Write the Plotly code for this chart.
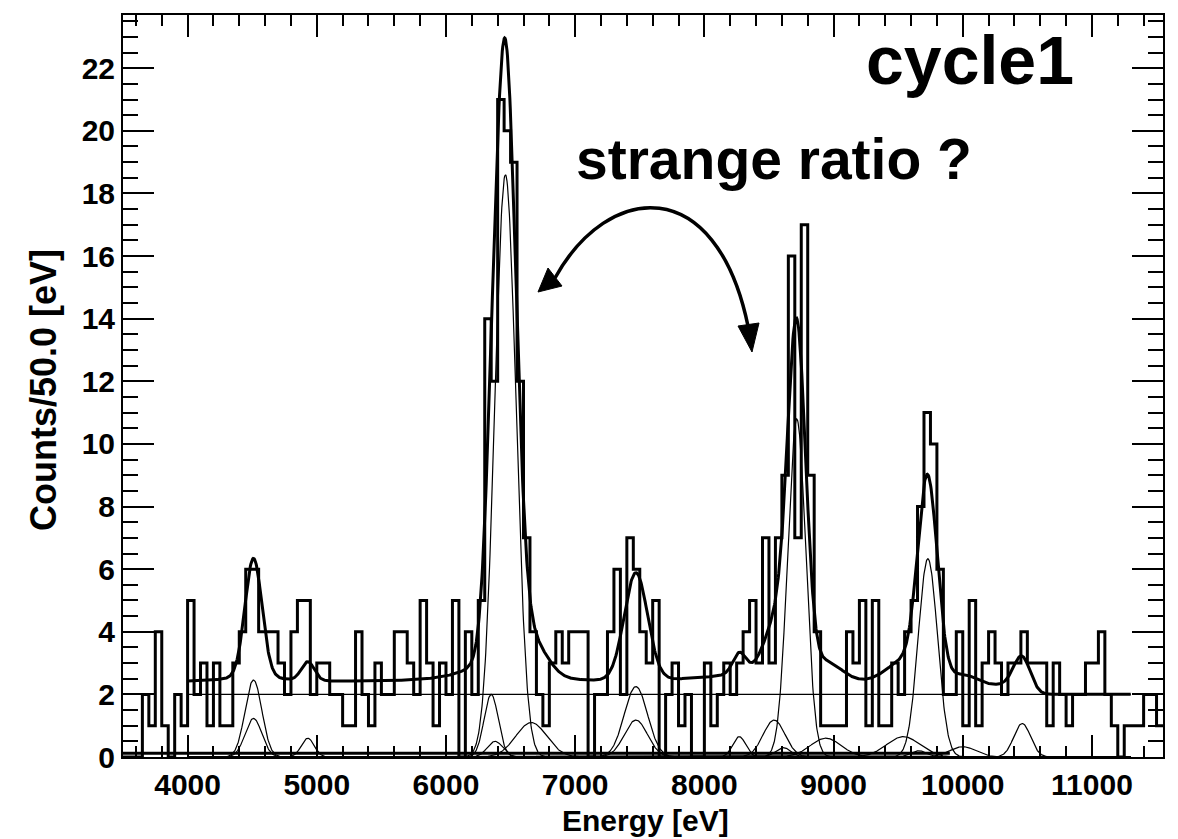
import math
import numpy as np
import plotly.graph_objects as go

# ---------------- data ----------------
bin_start = 3500
bin_width = 50
counts = [
    0, 0, 0, 2, 1, 4, 1, 0, 2, 1,          # 3500-3950
    5, 2, 3, 1, 3, 1, 1, 3, 4, 6,          # 4000-4450
    6, 4, 4, 4, 3, 2, 4, 5, 5, 2,          # 4500-4950
    3, 3, 2, 2, 1, 1, 4, 2, 1, 3,          # 5000-5450
    2, 2, 4, 4, 3, 2, 5, 3, 1, 3,          # 5500-5950
    2, 5, 0, 4, 2, 5, 14, 12, 21, 20,      # 6000-6450
    19, 12, 7, 4, 2, 1, 3, 4, 3, 4,        # 6500-6950
    4, 4, 0, 2, 2, 4, 6, 2, 7, 6,          # 7000-7450
    4, 3, 5, 0, 2, 3, 1, 2, 0, 0,          # 7500-7950
    3, 1, 2, 3, 2, 3, 4, 5, 3, 7,          # 8000-8450
    3, 7, 9, 16, 7, 17, 9, 4, 1, 1,        # 8500-8950
    1, 1, 4, 3, 5, 1, 5, 1, 1, 3,          # 9000-9450
    2, 4, 5, 8, 11, 10, 6, 2, 2, 4,        # 9500-9950
    1, 5, 1, 3, 4, 3, 2, 3, 3, 4,          # 10000-10450
    3, 3, 3, 1, 3, 2, 1, 2, 2, 3,          # 10500-10950
    3, 4, 2, 1, 0, 1, 1, 1, 2, 2,          # 11000-11450
    1,                                     # 11500
]

# fit: constant background + gaussian components (drawn thin)
bkg_level = 2.0
fit_lo, fit_hi = 4000, 11300
gauss_center = [4510, 4510, 4930, 6350, 6380, 6460, 6660, 7470, 7470, 8270,
                8540, 8610, 8715, 8940, 9540, 9660, 9730, 10000, 10460]
gauss_amp = [2.46, 1.23, 0.60, 2.0, 0.5, 18.6, 1.1, 2.25, 1.18, 0.65,
             1.18, 0.3, 10.8, 0.6, 0.65, 0.2, 6.33, 0.33, 1.07]
gauss_sigma = [65, 65, 50, 55, 60, 82, 120, 90, 90, 50,
               85, 60, 70, 120, 130, 60, 75, 100, 65]
# extra terms only present in the total fit (thick curve)
lor_center = [4510, 6460, 8715]
lor_amp = [0.25, 0.8, 0.15]
lor_gamma = [170, 150, 150]
tail_center = [6460, 8715]
tail_amp = [1.0, 0.8]
tail_beta = [200, 400]
tail_sigma = [80, 70]
step_center = [9730, 10460]
step_amp = [0.1, 0.3]
step_sigma = [75, 65]

x_ticks = [4000, 5000, 6000, 7000, 8000, 9000, 10000, 11000]
x_tick_text = ["4000", "5000", "6000", "7000", "8000", "9000", "10000", "11000"]
y_ticks = list(range(0, 23, 2))

# ---------------- model evaluation ----------------
erfc = np.vectorize(math.erfc)
E = np.linspace(fit_lo, fit_hi, 2000)


def gauss(x, a, c, s):
    return a * np.exp(-(x - c) ** 2 / (2 * s * s))


total = np.full_like(E, bkg_level)
for a, c, s in zip(gauss_amp, gauss_center, gauss_sigma):
    total += gauss(E, a, c, s)
for a, c, g in zip(lor_amp, lor_center, lor_gamma):
    total += a * g * g / ((E - c) ** 2 + g * g)
for a, c, b, s in zip(tail_amp, tail_center, tail_beta, tail_sigma):
    arg = (E - c) / b + s * s / (2 * b * b)
    total += a * 0.5 * np.exp(np.minimum(arg, 50)) * erfc((E - c) / (math.sqrt(2) * s) + s / (math.sqrt(2) * b))
for a, c, s in zip(step_amp, step_center, step_sigma):
    total += a * 0.5 * erfc((E - c) / (math.sqrt(2) * s))

# histogram outline
edges = bin_start + bin_width * np.arange(len(counts) + 1)
hx = list(edges)
hy = list(counts) + [counts[-1]]

fig = go.Figure()

# low-level band near zero
fig.add_trace(go.Scatter(x=[3500, 9900], y=[0.12, 0.12], mode="lines",
                         line=dict(color="black", width=3), hoverinfo="skip"))
# thin components
for a, c, s in zip(gauss_amp, gauss_center, gauss_sigma):
    fig.add_trace(go.Scatter(x=E, y=gauss(E, a, c, s), mode="lines",
                             line=dict(color="black", width=1.2), hoverinfo="skip"))
fig.add_trace(go.Scatter(x=[fit_lo, fit_hi], y=[bkg_level, bkg_level], mode="lines",
                         line=dict(color="black", width=1.2), hoverinfo="skip"))
# histogram
fig.add_trace(go.Scatter(x=hx, y=hy, mode="lines", line_shape="hv",
                         line=dict(color="black", width=3), hoverinfo="skip"))
# total fit
fig.add_trace(go.Scatter(x=E, y=total, mode="lines",
                         line=dict(color="black", width=3), hoverinfo="skip"))

# ---------------- layout ----------------
ML, MR, MT, MB = 123, 15, 15, 82
W, H = 1178, 839
PW, PH = W - ML - MR, H - MT - MB


def px(x):
    return (x - ML) / PW


def py(y):
    return (H - MB - y) / PH


font_b = dict(family="Liberation Sans, Arial, sans-serif", color="black", weight="bold")

axis_common = dict(showgrid=False, zeroline=False, showline=True, linecolor="black",
                   linewidth=2, mirror="allticks", ticks="inside", tickcolor="black",
                   tickwidth=1.5, tickfont=dict(size=30, **font_b))

fig.update_layout(
    width=W, height=H, margin=dict(l=ML, r=MR, t=MT, b=MB),
    plot_bgcolor="white", paper_bgcolor="white", showlegend=False,
    xaxis=dict(range=[3500, 11550], tickvals=x_ticks, ticktext=x_tick_text, ticklen=22,
               minor=dict(dtick=200, ticklen=11, ticks="inside", tickcolor="black", tickwidth=1.5),
               **axis_common),
    yaxis=dict(range=[0, 23.7], tickvals=y_ticks, ticklen=31,
               minor=dict(dtick=0.5, ticklen=15, ticks="inside", tickcolor="black", tickwidth=1.5),
               **axis_common),
)

ann = [
    dict(text="Energy [eV]", x=px(645), y=py(820), font=dict(size=30, **font_b)),
    dict(text="Counts/50.0 [eV]", x=px(43), y=py(390), textangle=-90, font=dict(size=36, **font_b)),
    dict(text="cycle1", x=px(970), y=py(60), font=dict(size=68, **font_b)),
    dict(text="strange ratio ?", x=px(774), y=py(159), font=dict(size=57, **font_b)),
]
for a in ann:
    fig.add_annotation(xref="paper", yref="paper", xanchor="center", yanchor="middle",
                       showarrow=False, **a)

# curved double arrow
p0, p1, p2, p3 = (555, 278), (608, 182), (716, 172), (748, 326)
path = "M {},{} C {},{} {},{} {},{}".format(px(p0[0]), py(p0[1]), px(p1[0]), py(p1[1]),
                                            px(p2[0]), py(p2[1]), px(p3[0]), py(p3[1]))
fig.add_shape(type="path", path=path, xref="paper", yref="paper",
              line=dict(color="black", width=3.5))
for tip, a, b in [((538, 292), (562, 286), (548, 268)), ((752, 352), (759, 323), (738, 326))]:
    pth = "M {},{} L {},{} L {},{} Z".format(px(tip[0]), py(tip[1]), px(a[0]), py(a[1]),
                                              px(b[0]), py(b[1]))
    fig.add_shape(type="path", path=pth, xref="paper", yref="paper",
                  line=dict(color="black", width=1), fillcolor="black")

fig.write_html("out.html")
